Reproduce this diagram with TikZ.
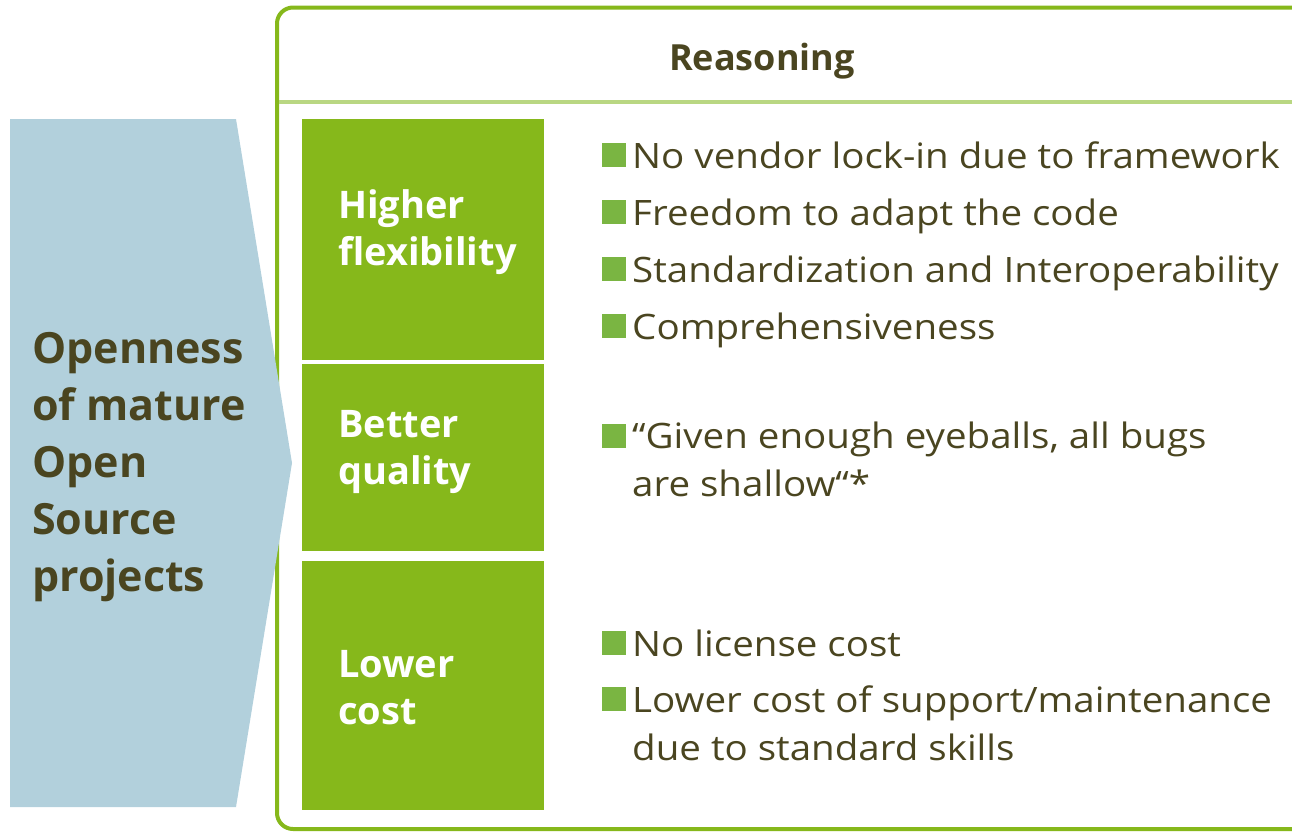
\documentclass[tikz,border=0pt]{standalone}
\usepackage{fontspec}
\setmainfont{Open Sans}
\newfontfamily\bodyfont[FakeStretch=1.1]{Open Sans}
\definecolor{olivetext}{RGB}{74,69,32}
\definecolor{boxgreen}{RGB}{134,184,27}
\definecolor{bulletgreen}{RGB}{122,181,66}
\definecolor{headgreen}{RGB}{185,215,130}
\definecolor{arrowblue}{RGB}{178,208,220}
\begin{document}
\begin{tikzpicture}[x=1pt, y=-1pt,
    every node/.style={inner sep=0pt, text=olivetext},
    catbox/.style={fill=boxgreen, minimum width=242pt, anchor=north west},
    cattext/.style={anchor=north west, align=left, text=white, font=\fontsize{38}{47}\selectfont\bfseries},
    bulletbox/.style={fill=bulletgreen, minimum size=24pt, anchor=north west},
    point/.style={anchor=base west, align=left, font=\bodyfont\fontsize{35}{48}\selectfont},
    longpoint/.style={anchor=north west, align=left, font=\bodyfont\fontsize{35}{48}\selectfont}]
    \useasboundingbox (0,0) rectangle (1292,833);

    % frame with header
    \draw[boxgreen, line width=4pt, rounded corners=16pt] (277,7.5) rectangle (1330,829);
    \draw[headgreen, line width=4pt] (279,102) -- (1292,102);
    \node[anchor=base, font=\fontsize{36}{40}\selectfont\bfseries] (head) at (762,70) {Reasoning};

    % left arrow
    \fill[arrowblue] (10,119) -- (236,119) -- (292,463) -- (236,807) -- (10,807) -- cycle;
    \node[anchor=north west, align=left, font=\fontsize{43}{57}\selectfont\bfseries] (open) at (32,332)
        {Openness\\of mature\\Open\\Source\\projects};

    % categories
    \node[catbox, minimum height=241pt] (flexbox) at (302,119) {};
    \node[catbox, minimum height=187pt] (qualbox) at (302,364) {};
    \node[catbox, minimum height=249pt] (costbox) at (302,561) {};
    \node[cattext] (flex) at (338,189) {Higher\\flexibility};
    \node[cattext] (qual) at (338,410) {Better\\quality};
    \node[cattext] (cost) at (338,650) {Lower\\cost};

    % reasons
    \node[bulletbox] (b1) at (602,143) {};
    \node[bulletbox] (b2) at (602,200) {};
    \node[bulletbox] (b3) at (602,257) {};
    \node[bulletbox] (b4) at (602,314) {};
    \node[bulletbox] (b5) at (602,424) {};
    \node[bulletbox] (b6) at (602,631) {};
    \node[bulletbox] (b7) at (602,687) {};
    \node[point] (r1) at (632,168) {No vendor lock-in due to framework};
    \node[point] (r2) at (632,225) {Freedom to adapt the code};
    \node[point] (r3) at (632,282) {Standardization and Interoperability};
    \node[point] (r4) at (632,339) {Comprehensiveness};
    \node[longpoint] (r5) at (632,422) {“Given enough eyeballs, all bugs\\are shallow“*};
    \node[point] (r6) at (632,656) {No license cost};
    \node[longpoint] (r7) at (632,686) {Lower cost of support/maintenance\\due to standard skills};
\end{tikzpicture}
\end{document}
